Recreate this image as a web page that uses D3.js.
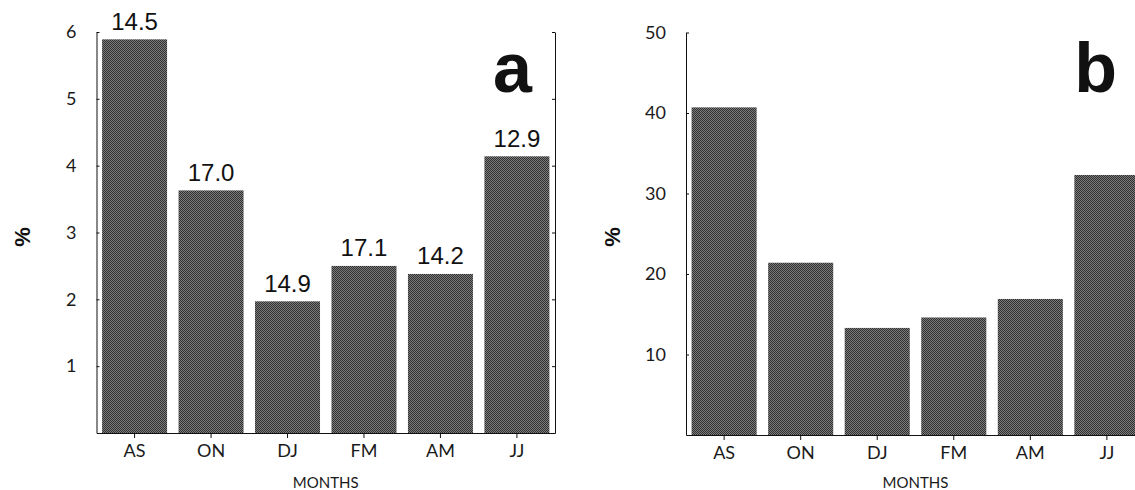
<!DOCTYPE html>
<html>
<head>
<meta charset="utf-8">
<script src="https://cdn.jsdelivr.net/npm/d3@7"></script>
<style>
  html, body { margin: 0; padding: 0; background: #fff; }
  svg { display: block; }
  .tick text, .axis-title { font-family: "Lato", "Open Sans", "DejaVu Sans", sans-serif; font-weight: 400; fill: #1a1a1a; }
  .value-label, .panel-letter, .pct { font-family: "Liberation Sans", Arial, sans-serif; fill: #111; }
</style>
</head>
<body>
<svg id="chart" width="1135" height="490"></svg>
<script>
// Two-month periods on the horizontal axis
const months = ["AS", "ON", "DJ", "FM", "AM", "JJ"];

// Panel a: percentages and the numbers printed above each bar
const valuesA = [5.89, 3.63, 1.97, 2.50, 2.38, 4.14];
const labelsA = ["14.5", "17.0", "14.9", "17.1", "14.2", "12.9"];
const ticksA = [1, 2, 3, 4, 5, 6];

// Panel b: percentages
const valuesB = [40.7, 21.4, 13.3, 14.6, 16.9, 32.3];
const ticksB = [10, 20, 30, 40, 50];

const svg = d3.select("#chart");

// Halftone-like fill for the bars
const defs = svg.append("defs");
const pat = defs.append("pattern")
  .attr("id", "screen")
  .attr("width", 2).attr("height", 2)
  .attr("patternUnits", "userSpaceOnUse");
pat.append("rect").attr("width", 2).attr("height", 2).attr("fill", "#7c7c7c");
pat.append("rect").attr("x", 0).attr("y", 0).attr("width", 1).attr("height", 1).attr("fill", "#303030");
pat.append("rect").attr("x", 1).attr("y", 1).attr("width", 1).attr("height", 1).attr("fill", "#303030");

function drawPanel(cfg) {
  const g = svg.append("g");

  const x = d3.scaleBand()
    .domain(months)
    .range([cfg.x0, cfg.x1])
    .paddingInner(0.15)
    .paddingOuter(0.073);

  const y = d3.scaleLinear()
    .domain([0, cfg.ymax])
    .range([cfg.y0, cfg.y1]);

  // bars
  g.selectAll("rect.bar")
    .data(cfg.values)
    .join("rect")
    .attr("class", "bar")
    .attr("x", (d, i) => x(months[i]))
    .attr("width", x.bandwidth())
    .attr("y", d => y(d))
    .attr("height", d => y(0) - y(d))
    .attr("fill", "url(#screen)");

  // left axis, ticks pointing into the plot
  const left = g.append("g")
    .attr("transform", `translate(${cfg.x0},0)`)
    .call(d3.axisLeft(y).tickValues(cfg.ticks).tickFormat(d3.format("d"))
      .tickSizeInner(-3).tickSizeOuter(0).tickPadding(20));
  left.selectAll(".tick text").attr("font-size", 18);

  // right axis without labels
  if (cfg.rightAxis) {
    g.append("g")
      .attr("transform", `translate(${cfg.x1},0)`)
      .call(d3.axisRight(y).tickValues(cfg.ticks).tickSizeInner(-3).tickSizeOuter(0).tickFormat(""));
  }

  // bottom axis
  const bottom = g.append("g")
    .attr("transform", `translate(0,${cfg.y0})`)
    .call(d3.axisBottom(x).tickSizeInner(5).tickSizeOuter(0).tickPadding(6));
  bottom.selectAll(".tick text").attr("font-size", 18);

  g.selectAll(".domain").attr("stroke", "#111");
  g.selectAll(".tick line").attr("stroke", "#111");

  // value labels above bars
  if (cfg.labels) {
    g.selectAll("text.value-label")
      .data(cfg.values)
      .join("text")
      .attr("class", "value-label")
      .attr("x", (d, i) => x(months[i]) + x.bandwidth() / 2)
      .attr("y", d => y(d) - 9.5)
      .attr("text-anchor", "middle")
      .attr("font-size", 24)
      .text((d, i) => cfg.labels[i]);
  }

  // panel letter
  g.append("text")
    .attr("class", "panel-letter")
    .attr("x", cfg.letterX)
    .attr("y", 92)
    .attr("text-anchor", "end")
    .attr("font-size", 70)
    .attr("font-weight", "bold")
    .text(cfg.letter);

  // axis titles
  g.append("text")
    .attr("class", "pct")
    .attr("transform", `translate(${cfg.pctX},237) rotate(-90)`)
    .attr("text-anchor", "middle")
    .attr("dominant-baseline", "central")
    .attr("font-size", 22)
    .attr("font-weight", "bold")
    .text("%");

  g.append("text")
    .attr("class", "axis-title")
    .attr("x", (cfg.x0 + cfg.x1) / 2)
    .attr("y", 488)
    .attr("text-anchor", "middle")
    .attr("font-size", 15)
    .text("MONTHS");
}

drawPanel({
  values: valuesA, labels: labelsA, ticks: ticksA, ymax: 6,
  x0: 96.5, x1: 555, y0: 433, y1: 32,
  rightAxis: true, letter: "a", letterX: 532, pctX: 22
});

drawPanel({
  values: valuesB, labels: null, ticks: ticksB, ymax: 50,
  x0: 686, x1: 1145, y0: 435, y1: 32.5,
  rightAxis: true, letter: "b", letterX: 1117, pctX: 612
});
</script>
</body>
</html>
